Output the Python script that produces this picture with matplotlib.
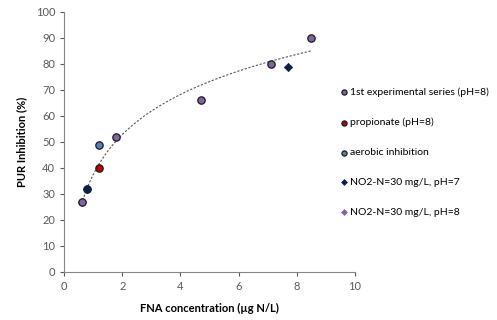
import numpy as np
import matplotlib.pyplot as plt

plt.rcParams['font.family'] = ['Lato', 'DejaVu Sans']

# data
series1_x = [0.6, 0.8, 1.8, 4.7, 7.1, 8.5]
series1_y = [27, 32, 52, 66, 80, 90]
prop_x = [1.2]
prop_y = [40]
aero_x = [1.2]
aero_y = [49]
no2_ph7_x = [0.8, 7.7]
no2_ph7_y = [32, 79]
no2_ph8_x = [0.6]
no2_ph8_y = [27]

fig = plt.figure(figsize=(4.97, 3.2), dpi=100)
ax = fig.add_axes([0.129, 0.15, 0.585, 0.8125])

# log trendline fitted to the 1st series
sx = np.array(series1_x)
a, b = np.polyfit(np.log(sx), np.array(series1_y), 1)
xs = np.linspace(sx.min(), sx.max(), 200)
ax.plot(xs, a * np.log(xs) + b, ls=(0, (2, 1.5)), color='#555555', lw=0.8, zorder=1)

ax.scatter(series1_x, series1_y, s=28, c='#8064a2', edgecolors='#1a1a1a', linewidths=0.9,
           label='1st experimental series (pH=8)', zorder=3)
ax.scatter(prop_x, prop_y, s=28, c='#c00000', edgecolors='#1a1a1a', linewidths=0.9,
           label='propionate (pH=8)', zorder=3)
ax.scatter(aero_x, aero_y, s=28, c='#4f81bd', edgecolors='#1a1a1a', linewidths=0.9,
           label='aerobic inhibition', zorder=3)
ax.scatter(no2_ph7_x, no2_ph7_y, s=18, c='#0b1f4d', marker='D', edgecolors='#0b1f4d',
           linewidths=0.5, label='NO2-N=30 mg/L, pH=7', zorder=4)
ax.scatter(no2_ph8_x, no2_ph8_y, s=18, c='#8064a2', marker='D', edgecolors='#8064a2',
           linewidths=0.5, label='NO2-N=30 mg/L, pH=8', zorder=2)

ax.set_xlim(0, 10)
ax.set_ylim(0, 100)
ax.set_xticks(range(0, 11, 2))
ax.set_yticks(range(0, 101, 10))
ax.tick_params(labelsize=8, colors='#595959', length=3, width=0.8)
for s in ['top', 'right']:
    ax.spines[s].set_visible(False)
for s in ['left', 'bottom']:
    ax.spines[s].set_color('#868686')

ax.set_xlabel('FNA concentration (µg N/L)', fontsize=8, fontweight='bold', labelpad=8)
ax.set_ylabel('PUR Inhibition (%)', fontsize=8, fontweight='bold', labelpad=6)

ax.legend(loc='upper left', bbox_to_anchor=(0.93, 0.725), frameon=False, fontsize=7.5,
          labelspacing=1.98, handletextpad=0.1, markerscale=0.7, handlelength=1.0,
          borderaxespad=0)

fig.savefig('out.png', dpi=100)
